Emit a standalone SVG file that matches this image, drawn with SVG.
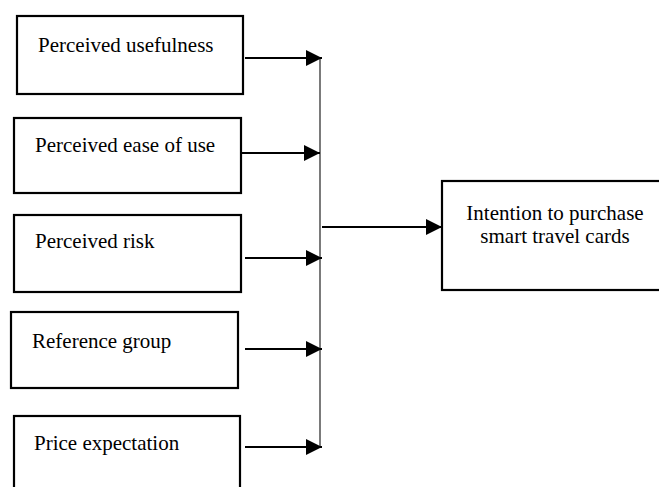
<svg xmlns="http://www.w3.org/2000/svg" width="659" height="487" viewBox="0 0 659 487">
<style>
.box{fill:#fff;stroke:#000;stroke-width:2.2}
.t{font-family:"Liberation Serif","Times New Roman",serif;font-size:21px;fill:#000}
.c{stroke:#000;stroke-width:2.2;fill:none}
.v{stroke:#333;stroke-width:1.3;fill:none}
</style>
<defs>
<marker id="ah" viewBox="0 0 16 16" refX="16" refY="8" markerWidth="16" markerHeight="16" markerUnits="userSpaceOnUse" orient="auto">
<path d="M0,0 L16,8 L0,16 Z" fill="#000"/>
</marker>
</defs>
<rect width="659" height="487" fill="#fff"/>
<g id="n1"><rect class="box" x="17" y="16" width="226" height="78"/><text class="t" x="38" y="52">Perceived usefulness</text></g>
<g id="n2"><rect class="box" x="14" y="118" width="227" height="75"/><text class="t" x="35" y="152">Perceived ease of use</text></g>
<g id="n3"><rect class="box" x="14" y="215" width="227" height="77"/><text class="t" x="35" y="248">Perceived risk</text></g>
<g id="n4"><rect class="box" x="11" y="312" width="227" height="76"/><text class="t" x="32" y="348">Reference group</text></g>
<g id="n5"><rect class="box" x="14" y="416" width="226" height="80"/><text class="t" x="34" y="450">Price expectation</text></g>
<g id="n6"><rect class="box" x="442" y="181" width="230" height="109"/><text class="t" x="555" y="220" text-anchor="middle">Intention to purchase</text><text class="t" x="555" y="243" text-anchor="middle">smart travel cards</text></g>
<g id="connectors">
<line class="v" x1="320" y1="57" x2="320" y2="447"/>
<line class="c" x1="245" y1="58" x2="322" y2="58" marker-end="url(#ah)"/>
<line class="c" x1="241" y1="153" x2="320" y2="153" marker-end="url(#ah)"/>
<line class="c" x1="245" y1="258" x2="322" y2="258" marker-end="url(#ah)"/>
<line class="c" x1="245" y1="349" x2="322" y2="349" marker-end="url(#ah)"/>
<line class="c" x1="245" y1="447" x2="322" y2="447" marker-end="url(#ah)"/>
<line class="c" x1="322" y1="227" x2="442" y2="227" marker-end="url(#ah)"/>
</g>
</svg>
